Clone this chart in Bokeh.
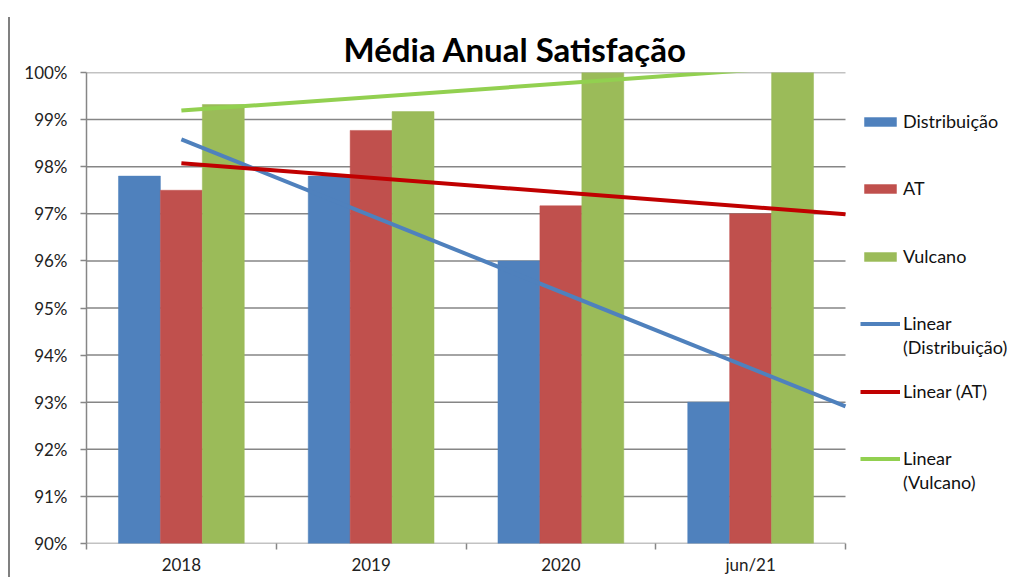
import numpy as np
from bokeh.plotting import figure
from bokeh.models import (FixedTicker, Legend, LegendItem, Range1d, PrintfTickFormatter)
from bokeh.embed import file_html
from bokeh.resources import INLINE

# ---- data ----
categories = ["2018", "2019", "2020", "jun/21"]
distribuicao = [97.8, 97.8, 96.0, 93.0]
at = [97.5, 98.77, 97.17, 97.0]
vulcano = [99.32, 99.17, 100.0, 100.0]
y_ticks = [90, 91, 92, 93, 94, 95, 96, 97, 98, 99, 100]
title_text = "Média Anual Satisfação"
series_names = ["Distribuição", "AT", "Vulcano"]
trend_names = [("Linear", "(Distribuição)"), ("Linear (AT)", None), ("Linear", "(Vulcano)")]

FONT = "Lato"
GRID = "#868686"
bar_colors = ["#4F81BD", "#C0504D", "#9BBB59"]
trend_colors = ["#4F81BD", "#C00000", "#92D050"]

# layout (pixels)
W, H = 1014, 577
PLOT_L, PLOT_R, PLOT_T, PLOT_B = 86, 845, 72, 543   # chart area inside the canvas
n = len(categories)
x_lo, x_hi = 0.5, n + 0.5
px_per_unit = (PLOT_R - PLOT_L) / (x_hi - x_lo)
x_end = x_hi + (W - PLOT_R) / px_per_unit           # extra room on the right for the legend

p = figure(width=W, height=H, output_backend="svg", toolbar_location=None,
           x_range=Range1d(x_lo, x_end), y_range=Range1d(90, 100),
           min_border_left=PLOT_L, min_border_right=0, min_border_top=PLOT_T,
           min_border_bottom=H - PLOT_B)
p.outline_line_color = None
p.background_fill_color = "white"
p.border_fill_alpha = 0
p.styles = {
    "background-color": "white",
    "background-image": "linear-gradient(#808080, #808080)",
    "background-repeat": "no-repeat",
    "background-position": "8px 17px",
    "background-size": "2px 560px",
}

# horizontal gridlines limited to the category span (the one at 90 is the x axis line)
p.segment(x0=x_lo, x1=x_hi, y0=y_ticks, y1=y_ticks, line_color=GRID, line_width=1.5)

cx = np.arange(1, n + 1)
bw = 0.221
renderers = []
for i, (vals, col) in enumerate(zip([distribuicao, at, vulcano], bar_colors)):
    r = p.vbar(x=cx + (i - 1) * bw, top=vals, bottom=90, width=bw,
               fill_color=col, line_color=col, line_width=0.5)
    renderers.append(r)

trend_r = []
x_trend = np.array([1.0, n + 0.5])
for vals, col in zip([distribuicao, at, vulcano], trend_colors):
    m, b = np.polyfit(cx, np.array(vals, dtype=float), 1)
    r = p.line(x=x_trend, y=m * x_trend + b, line_color=col, line_width=4)
    trend_r.append(r)

dummy = p.line(x=[], y=[], line_alpha=0)

# y axis
p.yaxis.ticker = FixedTicker(ticks=y_ticks)
p.yaxis.formatter = PrintfTickFormatter(format="%d%%")
p.yaxis.major_tick_out = 6
p.yaxis.major_tick_in = 0
p.yaxis.minor_tick_out = 0
p.yaxis.minor_tick_in = 0
p.yaxis.axis_line_color = GRID
p.yaxis.axis_line_width = 1.5
p.yaxis.major_tick_line_color = GRID
p.yaxis.major_tick_line_width = 1.5
p.yaxis.major_label_text_font = FONT
p.yaxis.major_label_text_font_size = "17px"
p.yaxis.major_label_text_color = "#222222"
p.yaxis.major_label_standoff = 13

p.ygrid.grid_line_color = None
p.xgrid.grid_line_color = None

# x axis
p.xaxis.ticker = FixedTicker(ticks=list(cx), minor_ticks=list(np.arange(x_lo, x_hi + 0.01, 1.0)))
p.xaxis.major_label_overrides = {int(c): lab for c, lab in zip(cx, categories)}
p.xaxis.major_tick_out = 0
p.xaxis.major_tick_in = 0
p.xaxis.minor_tick_out = 6
p.xaxis.minor_tick_in = 0
p.xaxis.minor_tick_line_color = GRID
p.xaxis.minor_tick_line_width = 1.5
p.xaxis.axis_line_color = None
p.xaxis.major_label_text_font = FONT
p.xaxis.major_label_text_font_size = "17px"
p.xaxis.major_label_text_color = "#222222"
p.xaxis.major_label_standoff = 4

# title
p.title.text = title_text
p.title.text_font = FONT
p.title.text_font_size = "33px"
p.title.text_font_style = "bold"
p.title.text_color = "#000000"
p.title.align = "left"
p.title.offset = 257
p.title.standoff = 7

# legend entries, each placed on its own row
entries = [([(name, r)]) for name, r in zip(series_names, renderers)]
for (first, second), r in zip(trend_names, trend_r):
    e = [(first, r)]
    if second:
        e.append((second, dummy))
    entries.append(e)

ROW_H = 24
first_row_y = 121      # centre of the first legend marker, px from top
pitch = 67.4
for k, e in enumerate(entries):
    top = first_row_y + k * pitch - ROW_H / 2
    bottom = top + ROW_H * len(e)
    leg = Legend(items=[LegendItem(label=lab, renderers=[r]) for lab, r in e],
                 location=(860 - PLOT_L, round(PLOT_B - bottom)), ncols=1,
                 glyph_width=40, glyph_height=11, label_standoff=3, padding=0,
                 margin=0, spacing=0, border_line_color=None,
                 background_fill_alpha=0, label_text_font=FONT,
                 label_text_font_size="18px", label_text_color="#111111",
                 label_height=ROW_H, label_text_line_height=1.0)
    p.add_layout(leg, "center")

open("out.html", "w").write(file_html(p, INLINE))
